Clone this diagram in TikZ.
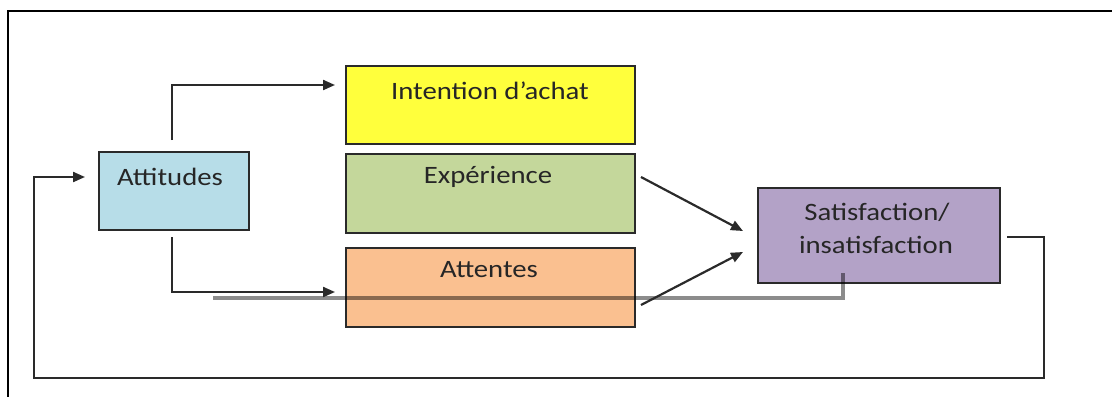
\documentclass[tikz,border=0pt]{standalone}
\usepackage{fontspec}
\setmainfont[FakeStretch=1.15]{Carlito}
\usetikzlibrary{arrows.meta}
\definecolor{cblue}{HTML}{B7DDE8}
\definecolor{cyellow}{HTML}{FFFF3C}
\definecolor{cgreen}{HTML}{C4D79B}
\definecolor{corange}{HTML}{FAC090}
\definecolor{cpurple}{HTML}{B3A2C7}
\definecolor{cline}{HTML}{2A2A2A}
\definecolor{ctext}{HTML}{262626}
\tikzset{
  box/.style={draw=cline, line width=2.4pt, anchor=north west, inner sep=0pt},
  conn/.style={draw=cline, line width=2.2pt},
  arr/.style={conn, -{Triangle[length=12pt,width=10pt]}},
  lbl/.style={text=ctext, font=\fontsize{25}{32}\selectfont, align=center, inner sep=0pt}
}
\begin{document}
\begin{tikzpicture}[x=1pt,y=-1pt]
\useasboundingbox (0,0) rectangle (1112,397);
% frame (top and left edges)
\draw[line width=2.6pt, black] (1112,11) -- (8,11) -- (8,397);
% boxes
\node[box, fill=cblue, minimum width=150pt, minimum height=78pt] (att) at (98,151) {};
\node[box, fill=cyellow, minimum width=289pt, minimum height=78pt] (int) at (345,65) {};
\node[box, fill=cgreen, minimum width=289pt, minimum height=79pt] (exp) at (345,153) {};
\node[box, fill=corange, minimum width=289pt, minimum height=79pt] (ate) at (345,247) {};
\node[box, fill=cpurple, minimum width=242pt, minimum height=95pt] (sat) at (757,187) {};
% labels
\node[lbl] (latt) at (170,177) {Attitudes};
\node[lbl] (lint) at (490,91) {Intention d’achat};
\node[lbl] (lexp) at (488,177) {Expérience};
\node[lbl] (late) at (489,270) {Attentes};
\node[lbl] (lsat1) at (877,212) {Satisfaction/};
\node[lbl] (lsat2) at (876,245) {insatisfaction};
% coordinates
\coordinate (a1) at (172,140);
\coordinate (a2) at (172,85);
\coordinate (a3) at (335,85);
\coordinate (b1) at (172,237);
\coordinate (b2) at (172,292);
\coordinate (b3) at (335,292);
\coordinate (e1) at (641,177);
\coordinate (e2) at (743,231);
\coordinate (t1) at (641,305);
\coordinate (t2) at (743,252);
\coordinate (f1) at (1007,237);
\coordinate (f2) at (1044,237);
\coordinate (f3) at (1044,378);
\coordinate (f4) at (34,378);
\coordinate (f5) at (34,177);
\coordinate (f6) at (85,177);
\coordinate (s1) at (213,298);
\coordinate (s2) at (843,298);
\coordinate (s3) at (843,273);
% shadow line
\draw[line width=3.6pt, black, opacity=0.45] (s1) -- (s2) -- (s3);
% connectors
\draw[arr] (a1) -- (a2) -- (a3);
\draw[arr] (b1) -- (b2) -- (b3);
\draw[arr] (e1) -- (e2);
\draw[arr] (t1) -- (t2);
\draw[arr] (f1) -- (f2) -- (f3) -- (f4) -- (f5) -- (f6);
\end{tikzpicture}
\end{document}
